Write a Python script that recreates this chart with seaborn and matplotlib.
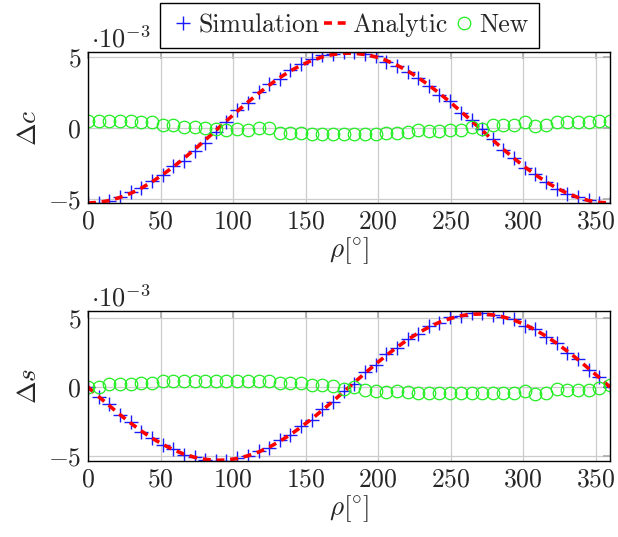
import matplotlib
matplotlib.use("Agg")
import matplotlib.pyplot as plt
import seaborn as sns
import pandas as pd

# rho in degrees (50 samples over one turn)
rho = [0.0, 7.3, 14.7, 22.0, 29.4, 36.7, 44.1, 51.4, 58.8, 66.1,
       73.5, 80.8, 88.2, 95.5, 102.9, 110.2, 117.6, 124.9, 132.2, 139.6,
       146.9, 154.3, 161.6, 169.0, 176.3, 183.7, 191.0, 198.4, 205.7, 213.1,
       220.4, 227.8, 235.1, 242.4, 249.8, 257.1, 264.5, 271.8, 279.2, 286.5,
       293.9, 301.2, 308.6, 315.9, 323.3, 330.6, 338.0, 345.3, 352.7, 360.0]

# delta c (x 1e-3)
dc_sim = [-5.30, -5.30, -5.15, -4.85, -4.55, -4.25, -3.75, -3.35, -2.70, -2.30,
          -1.60, -1.05, -0.25, 0.40, 1.25, 1.75, 2.55, 3.10, 3.45, 4.10,
          4.50, 4.85, 5.15, 5.20, 5.35, 5.35, 5.20, 5.10, 4.70, 4.40,
          3.95, 3.55, 2.95, 2.35, 1.90, 1.05, 0.55, -0.05, -0.80, -1.55,
          -2.15, -2.80, -3.25, -3.80, -4.30, -4.65, -4.85, -5.10, -5.30, -5.30]
dc_ana = [-5.30, -5.26, -5.13, -4.91, -4.62, -4.25, -3.81, -3.30, -2.75, -2.15,
          -1.51, -0.85, -0.17, 0.51, 1.18, 1.83, 2.45, 3.03, 3.56, 4.04,
          4.44, 4.78, 5.03, 5.20, 5.29, 5.29, 5.20, 5.03, 4.78, 4.44,
          4.04, 3.56, 3.03, 2.45, 1.83, 1.18, 0.51, -0.17, -0.85, -1.51,
          -2.15, -2.75, -3.30, -3.81, -4.25, -4.62, -4.91, -5.13, -5.26, -5.30]
dc_new = [0.51, 0.51, 0.48, 0.48, 0.48, 0.46, 0.46, 0.23, 0.23, 0.09,
          0.09, 0.00, -0.05, -0.16, -0.08, -0.12, -0.03, -0.03, -0.35, -0.32,
          -0.32, -0.44, -0.44, -0.44, -0.44, -0.44, -0.40, -0.40, -0.34, -0.32,
          -0.28, -0.15, -0.18, -0.18, -0.14, -0.14, 0.09, -0.05, 0.19, 0.23,
          0.23, 0.42, 0.14, 0.19, 0.46, 0.46, 0.46, 0.46, 0.51, 0.51]

# delta s (x 1e-3)
ds_sim = [0.00, -0.75, -1.25, -2.05, -2.55, -3.25, -3.65, -4.20, -4.45, -4.95,
          -5.05, -5.30, -5.35, -5.35, -5.10, -5.00, -4.65, -4.40, -3.85, -3.50,
          -2.85, -2.40, -1.60, -1.10, -0.30, 0.25, 1.10, 1.60, 2.40, 2.80,
          3.50, 3.85, 4.45, 4.65, 5.05, 5.15, 5.35, 5.35, 5.25, 5.05,
          4.90, 4.45, 4.20, 3.60, 3.20, 2.50, 2.05, 1.25, 0.75, 0.00]
ds_ana = [0.00, -0.68, -1.34, -1.99, -2.60, -3.17, -3.69, -4.14, -4.53, -4.85,
          -5.08, -5.23, -5.30, -5.28, -5.17, -4.97, -4.70, -4.35, -3.92, -3.44,
          -2.89, -2.30, -1.67, -1.01, -0.34, 0.34, 1.01, 1.67, 2.30, 2.89,
          3.44, 3.92, 4.35, 4.70, 4.97, 5.17, 5.28, 5.30, 5.23, 5.08,
          4.85, 4.53, 4.14, 3.69, 3.17, 2.60, 1.99, 1.34, 0.68, 0.00]
ds_new = [0.00, 0.00, 0.22, 0.26, 0.26, 0.30, 0.30, 0.43, 0.43, 0.43,
          0.43, 0.43, 0.43, 0.43, 0.43, 0.43, 0.48, 0.48, 0.33, 0.33,
          0.31, 0.14, 0.17, 0.08, -0.10, 0.02, -0.24, -0.26, -0.33, -0.31,
          -0.38, -0.43, -0.43, -0.43, -0.45, -0.45, -0.45, -0.45, -0.43, -0.42,
          -0.42, -0.28, -0.50, -0.42, -0.15, -0.22, -0.21, -0.21, -0.05, 0.12]

xticks = [0, 50, 100, 150, 200, 250, 300, 350]
yticks = [-5, 0, 5]

sns.set_style("white")
plt.rcParams['font.family'] = ['cmr10', 'DejaVu Serif']
plt.rcParams['mathtext.fontset'] = 'cm'

FS = 18.5
BLUE = '#1a1aff'
GREEN = '#22ee22'

fig = plt.figure(figsize=(6.18, 5.37), dpi=100)
ax1 = fig.add_axes([0.1424, 0.622, 0.8447, 0.281])
ax2 = fig.add_axes([0.1424, 0.1415, 0.8447, 0.279])

panels = [(ax1, dc_sim, dc_ana, dc_new, r'$\Delta c$', (-5.3, 5.37)),
          (ax2, ds_sim, ds_ana, ds_new, r'$\Delta s$', (-5.35, 5.5))]

for ax, sim, ana, new, ylab, ylim in panels:
    df = pd.DataFrame({'rho': rho, 'sim': sim, 'ana': ana, 'new': new})
    sns.lineplot(data=df, x='rho', y='sim', ax=ax, color=BLUE, marker='+',
                 linestyle='', markersize=9.5, markeredgewidth=1.0,
                 markeredgecolor=BLUE, label='Simulation', legend=False)
    sns.lineplot(data=df, x='rho', y='ana', ax=ax, color='red', linewidth=2.6,
                 dashes=(2.2, 1.6), label='Analytic', legend=False)
    sns.lineplot(data=df, x='rho', y='new', ax=ax, color=GREEN, marker='o',
                 linestyle='', markersize=9, markerfacecolor='none',
                 markeredgecolor=GREEN, markeredgewidth=0.9,
                 label='New', legend=False)
    ax.set_xlim(0, 360)
    ax.set_ylim(*ylim)
    ax.set_xticks(xticks)
    ax.set_xticklabels([rf'${t}$' for t in xticks], fontsize=FS)
    ax.set_yticks(yticks)
    ax.set_yticklabels([r'$-5$', r'$0$', r'$5$'], fontsize=FS)
    ax.grid(True, color='#cccccc', linewidth=0.9)
    ax.tick_params(direction='in', length=5, width=1.2, color='#aaaaaa',
                   top=True, right=True, pad=5)
    for s in ax.spines.values():
        s.set_color('black')
        s.set_linewidth(1.0)
    ax.set_xlabel(r'$\rho[{}^{\circ}]$', fontsize=FS + 1, labelpad=1)
    ax.set_ylabel(ylab, fontsize=FS + 1, labelpad=5)
    ax.text(0.005, 1.0, r'$\cdot 10^{-3}$', transform=ax.transAxes,
            fontsize=FS + 0.5, ha='left', va='bottom')

handles, labels = ax1.get_legend_handles_labels()
fig.legend(handles, labels, loc='upper center', bbox_to_anchor=(0.5655, 0.994),
           ncol=3, fontsize=FS, frameon=True, fancybox=False, edgecolor='black',
           framealpha=1, handlelength=1.0, handletextpad=0.1, columnspacing=0.15,
           borderpad=0.4, borderaxespad=0.0, numpoints=1)

fig.savefig('out.png', dpi=100)
